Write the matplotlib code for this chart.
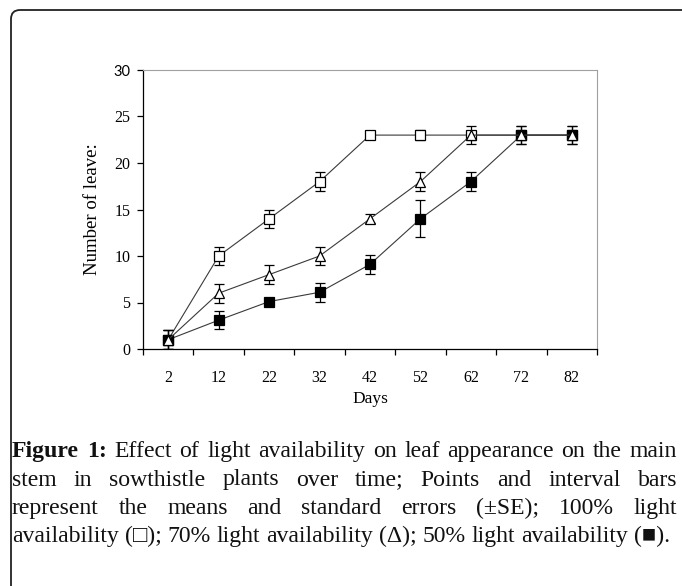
import numpy as np
import matplotlib
matplotlib.use("Agg")
import matplotlib.pyplot as plt
from matplotlib.patches import FancyBboxPatch
from matplotlib.ticker import FixedLocator

# ---------------- data ----------------
days = ['2', '12', '22', '32', '42', '52', '62', '72', '82']
light100 = [1, 10, 14, 18, 23, 23, 23, 23, 23]
light100_se = [1, 1, 1, 1, 0.4, 0.5, 0.4, 0.4, 0.4]
light70 = [1, 6, 8, 10, 14, 18, 23, 23, 23]
light70_se = [1, 1, 1, 1, 0.5, 1, 1, 1, 1]
light50 = [1, 3.1, 5.1, 6.1, 9.1, 14, 18, 23, 23]
light50_se = [1, 1, 0.25, 1, 1, 2, 1, 1, 1]
yticks = [0, 5, 10, 15, 20, 25, 30]

caption_lines = [
    "Figure 1: Effect of light availability on leaf appearance on the main",
    "stem in sowthistle plants over time; Points and interval bars",
    "represent the means and standard errors (\u00b1SE); 100% light",
    "availability (\u25a1); 70% light availability (\u0394); 50% light availability (\u25a0).",
]

W, H = 682, 586
fig = plt.figure(figsize=(W / 100, H / 100), dpi=100)
serif = ['Liberation Serif', 'DejaVu Serif']

# outer rounded frame
frame = FancyBboxPatch((0.11, -1.0), 8.0, 5.76 + 1.0,
                       boxstyle='round,pad=0,rounding_size=0.09',
                       transform=fig.dpi_scale_trans, fill=False,
                       ec='#222222', lw=1.3, clip_on=False)
fig.add_artist(frame)

# axes
ax = fig.add_axes([143 / W, (H - 349) / H, 454 / W, 279 / H])
x = np.arange(len(days))

line_col = '#3a3a3a'
common = dict(lw=0.8, color=line_col, ecolor='black', elinewidth=0.9,
              capsize=3.6, capthick=0.9, mec='black', mew=0.9)
ax.errorbar(x, light100, yerr=light100_se, fmt='-s', ms=6.5, mfc='white', zorder=3, **common)
ax.errorbar(x, light50, yerr=light50_se, fmt='-s', ms=6.5, mfc='black', zorder=4, **common)
ax.errorbar(x, light70, yerr=light70_se, fmt='-^', ms=7, mfc='white', zorder=5, **common)

ax.set_xlim(-0.5, len(days) - 0.5)
ax.set_ylim(0, 30)
ax.set_yticks(yticks)
ax.set_yticklabels([str(v) for v in yticks], family=serif, fontsize=11.5)
ax.get_yticklabels()[-1].set_family(['Lato', 'DejaVu Sans'])
ax.get_yticklabels()[-1].set_fontsize(10.5)
ax.tick_params(axis='y', direction='out', length=4, width=0.9, pad=5, colors='black')

ax.set_xticks(x)
ax.set_xticklabels(days, family=serif, fontsize=11.5)
ax.tick_params(axis='x', which='major', length=0, pad=15)
ax.xaxis.set_minor_locator(FixedLocator(np.arange(-0.5, len(days), 1.0)))
ax.tick_params(axis='x', which='minor', direction='out', length=4, width=0.9)

ax.set_xlabel('Days', family=serif, fontsize=12.5, labelpad=4)
ax.set_ylabel('Number of leave:', family=serif, fontsize=13.5, labelpad=9)

for s in ['left', 'bottom']:
    ax.spines[s].set_color('black')
    ax.spines[s].set_linewidth(0.9)
for s in ['top', 'right']:
    ax.spines[s].set_color('#a0a0a0')
    ax.spines[s].set_linewidth(0.8)

# ---------------- caption (justified) ----------------
renderer = fig.canvas.get_renderer()
x0, x1 = 12, 677
baselines = [457, 485.5, 514, 542]


def measure(s, size, weight='normal'):
    t = fig.text(0, 0, s, fontsize=size, family=serif, weight=weight)
    w = t.get_window_extent(renderer).width
    t.remove()
    return w

# choose caption size so the last (non-justified) line is ~660 px wide
ref = 10.0
wref = measure(caption_lines[3], ref)
cap_size = ref * 662 / wref


def place_line(line, ybase, justify, bold_n=0):
    words = line.split(' ')
    widths = [measure(w, cap_size, 'bold' if i < bold_n else 'normal') for i, w in enumerate(words)]
    if justify and len(words) > 1:
        gap = (x1 - x0 - sum(widths)) / (len(words) - 1)
    else:
        gap = 0.25 * cap_size * 100 / 72
    xp = x0
    for i, (w, wd) in enumerate(zip(words, widths)):
        fig.text(xp / 100, (H - ybase) / 100, w, transform=fig.dpi_scale_trans,
                 fontsize=cap_size, family=serif,
                 weight='bold' if i < bold_n else 'normal',
                 ha='left', va='baseline', color='#111111')
        xp += wd + gap


place_line(caption_lines[0], baselines[0], True, bold_n=2)
place_line(caption_lines[1], baselines[1], True)
place_line(caption_lines[2], baselines[2], True)
place_line(caption_lines[3], baselines[3], False)

fig.savefig('out.png', dpi=100)
